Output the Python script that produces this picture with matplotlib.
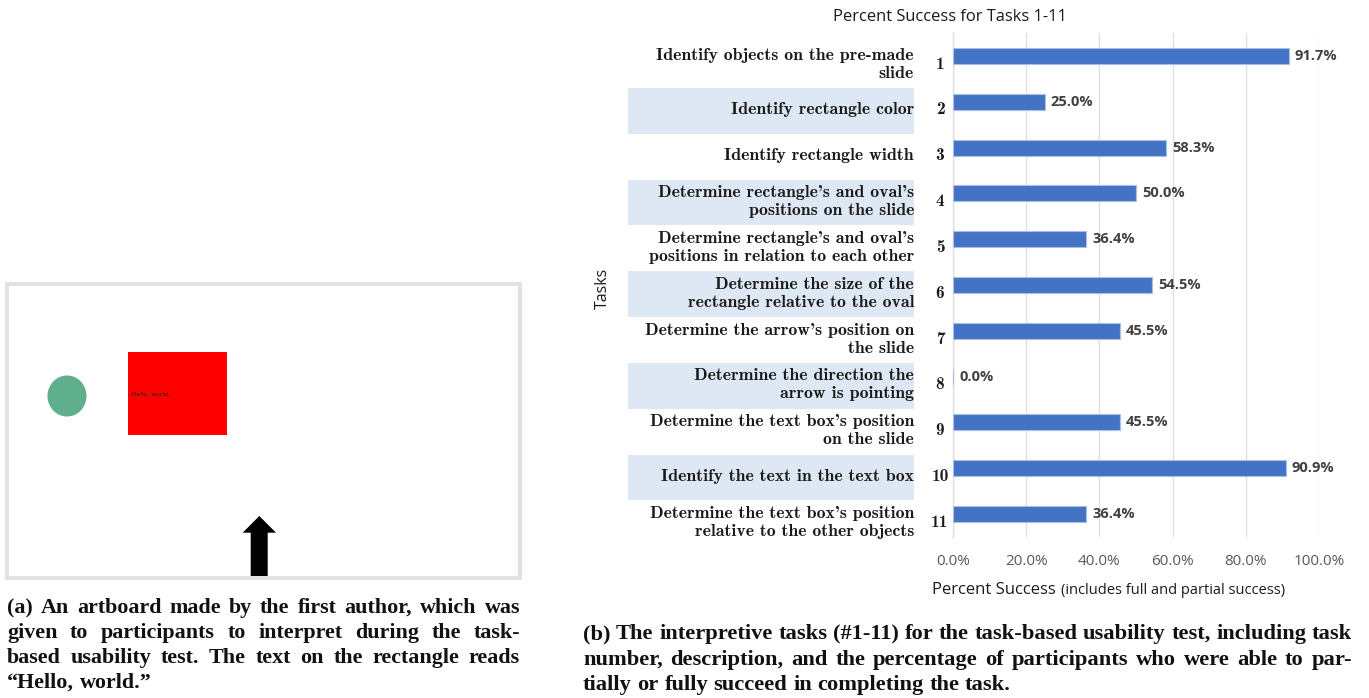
import matplotlib
matplotlib.use("Agg")
import matplotlib.pyplot as plt
import matplotlib.transforms as mtransforms
from matplotlib.patches import Rectangle, Ellipse, Polygon

# ---------------- data ----------------
task_numbers = ["1", "2", "3", "4", "5", "6", "7", "8", "9", "10", "11"]
task_descriptions = [
    "Identify objects on the pre-made\nslide",
    "Identify rectangle color",
    "Identify rectangle width",
    "Determine rectangle's and oval's\npositions on the slide",
    "Determine rectangle's and oval's\npositions in relation to each other",
    "Determine the size of the\nrectangle relative to the oval",
    "Determine the arrow's position on\nthe slide",
    "Determine the direction the\narrow is pointing",
    "Determine the text box's position\non the slide",
    "Identify the text in the text box",
    "Determine the text box's position\nrelative to the other objects",
]
percent_success = [91.7, 25.0, 58.3, 50.0, 36.4, 54.5, 45.5, 0.0, 45.5, 90.9, 36.4]
x_ticks = [0, 20, 40, 60, 80, 100]
x_tick_labels = ["0.0%", "20.0%", "40.0%", "60.0%", "80.0%", "100.0%"]
chart_title = "Percent Success for Tasks 1-11"

caption_a_lines = [
    "(a) An artboard made by the first author, which was",
    "given to participants to interpret during the task-",
    "based usability test. The text on the rectangle reads",
    "\u201cHello, world.\u201d",
]
caption_b_lines = [
    "(b) The interpretive tasks (#1-11) for the task-based usability test, including task",
    "number, description, and the percentage of participants who were able to par-",
    "tially or fully succeed in completing the task.",
]

# ---------------- figure ----------------
W, H = 1369, 698
fig = plt.figure(figsize=(W / 100, H / 100), dpi=100)
fig.patch.set_facecolor("white")

def fx(x):
    return x / W

def fy(y):
    return 1 - y / H

SANS = ["Open Sans", "DejaVu Sans"]
SERIF_CM = ["cmb10", "DejaVu Serif"]
SERIF_CAP = ["Liberation Serif", "DejaVu Serif"]

# ---------------- artboard (panel a) ----------------
ax0 = fig.add_axes([fx(7), fy(578), fx(520) - fx(7), fy(284) - fy(578)])
ax0.set_xlim(0, 513)
ax0.set_ylim(294, 0)
ax0.set_xticks([])
ax0.set_yticks([])
for s in ax0.spines.values():
    s.set_color("#E2E2E2")
    s.set_linewidth(2.8)
ax0.add_patch(Ellipse((60, 112), 39, 41, facecolor="#5FAF8C", edgecolor="none"))
ax0.add_patch(Rectangle((121, 68), 99, 83, facecolor="#FF0000", edgecolor="none"))
ax0.text(125, 110, "Hello, world.", fontsize=4.3, color="#222222", va="center",
         ha="left", family=["DejaVu Sans"])
ax0.add_patch(Polygon([(252.3, 232), (269, 248.7), (260.7, 248.7), (260.7, 292),
                       (243.7, 292), (243.7, 248.7), (235.7, 248.7)],
                      closed=True, facecolor="black", edgecolor="none"))

# ---------------- bar chart (panel b) ----------------
ax = fig.add_axes([fx(953), fy(537), fx(1319) - fx(953), fy(33) - fy(537)])
n = len(task_numbers)
ypos = list(range(n))
ax.barh(ypos, percent_success, height=0.35, color="#4472C4",
        edgecolor="#A9BFE6", linewidth=0.8, zorder=3)
ax.set_xlim(0, 100)
ax.set_ylim(n - 0.5, -0.5)
ax.set_xticks(x_ticks)
ax.set_xticklabels(x_tick_labels, fontsize=11, color="#595959", family=SANS)
ax.tick_params(axis="x", length=0, pad=12)
ax.set_yticks([])
ax.grid(axis="x", color="#E0E0E0", linewidth=1.0, zorder=0)
for s in ["top", "right", "bottom"]:
    ax.spines[s].set_visible(False)
ax.spines["left"].set_color("#E0E0E0")
ax.spines["left"].set_linewidth(1.0)

for y, v in zip(ypos, percent_success):
    ax.annotate(f"{v:.1f}%", xy=(v, y), xytext=(6, 0), textcoords="offset pixels",
                ha="left", va="center", fontsize=10.5, fontweight="bold",
                color="#404040", family=SANS)

blend = mtransforms.blended_transform_factory(fig.transFigure, ax.transData)
row_off = 0.18
for i, (num, desc) in enumerate(zip(task_numbers, task_descriptions)):
    if i % 2 == 1:
        fig.patches.append(Rectangle((fx(628), i + row_off + 0.02 - 0.5), fx(914) - fx(628), 1.0,
                                     transform=blend, facecolor="#DDE8F4",
                                     edgecolor="none", zorder=0))
    fig.text(fx(914), i + row_off, desc, transform=blend, ha="right", va="center",
             multialignment="right", fontsize=12.8, family=SERIF_CM,
             linespacing=1.25, color="#1a1a1a")
    fig.text(fx(940), i + row_off, num, transform=blend, ha="center", va="center",
             fontsize=12.5, family=SERIF_CM, color="#1a1a1a")

fig.text(fx(950), fy(17), chart_title, ha="center", va="center", fontsize=11.9,
         family=SANS, color="#1a1a1a")
fig.text(fx(603), fy(288), "Tasks", rotation=90, ha="center", va="center",
         fontsize=11.5, family=SANS, color="#1a1a1a")
fig.text(fx(932), fy(590), "Percent Success", ha="left", va="center",
         fontsize=12, family=SANS, color="#1a1a1a")
fig.text(fx(1061), fy(591), "(includes full and partial success)", ha="left",
         va="center", fontsize=10.5, family=SANS, color="#1a1a1a")

# ---------------- captions (justified) ----------------
renderer = fig.canvas.get_renderer()

def justified(lines, x0, x1, baselines, fs):
    t = fig.text(0, 0, "a a", fontsize=fs, fontweight="bold", family=SERIF_CAP)
    t2 = fig.text(0, 0, "aa", fontsize=fs, fontweight="bold", family=SERIF_CAP)
    space_w = t.get_window_extent(renderer).width - t2.get_window_extent(renderer).width
    t.remove()
    t2.remove()
    for k, (line, yb) in enumerate(zip(lines, baselines)):
        words = line.split(" ")
        objs = [fig.text(0, fy(yb), w, fontsize=fs, fontweight="bold", family=SERIF_CAP,
                         va="baseline", ha="left", color="#111111") for w in words]
        widths = [o.get_window_extent(renderer).width for o in objs]
        last = (k == len(lines) - 1)
        if last or len(words) == 1:
            gap = space_w
        else:
            gap = max((x1 - x0 - sum(widths)) / (len(words) - 1), 0.6 * space_w)
        x = x0
        for o, w in zip(objs, widths):
            o.set_x(fx(x))
            x += w + gap

justified(caption_a_lines, 7, 520, [613, 638, 663, 688], 15.8)
justified(caption_b_lines, 583, 1352, [639, 665, 690], 16.2)

fig.savefig("out.png", dpi=100, facecolor="white")
